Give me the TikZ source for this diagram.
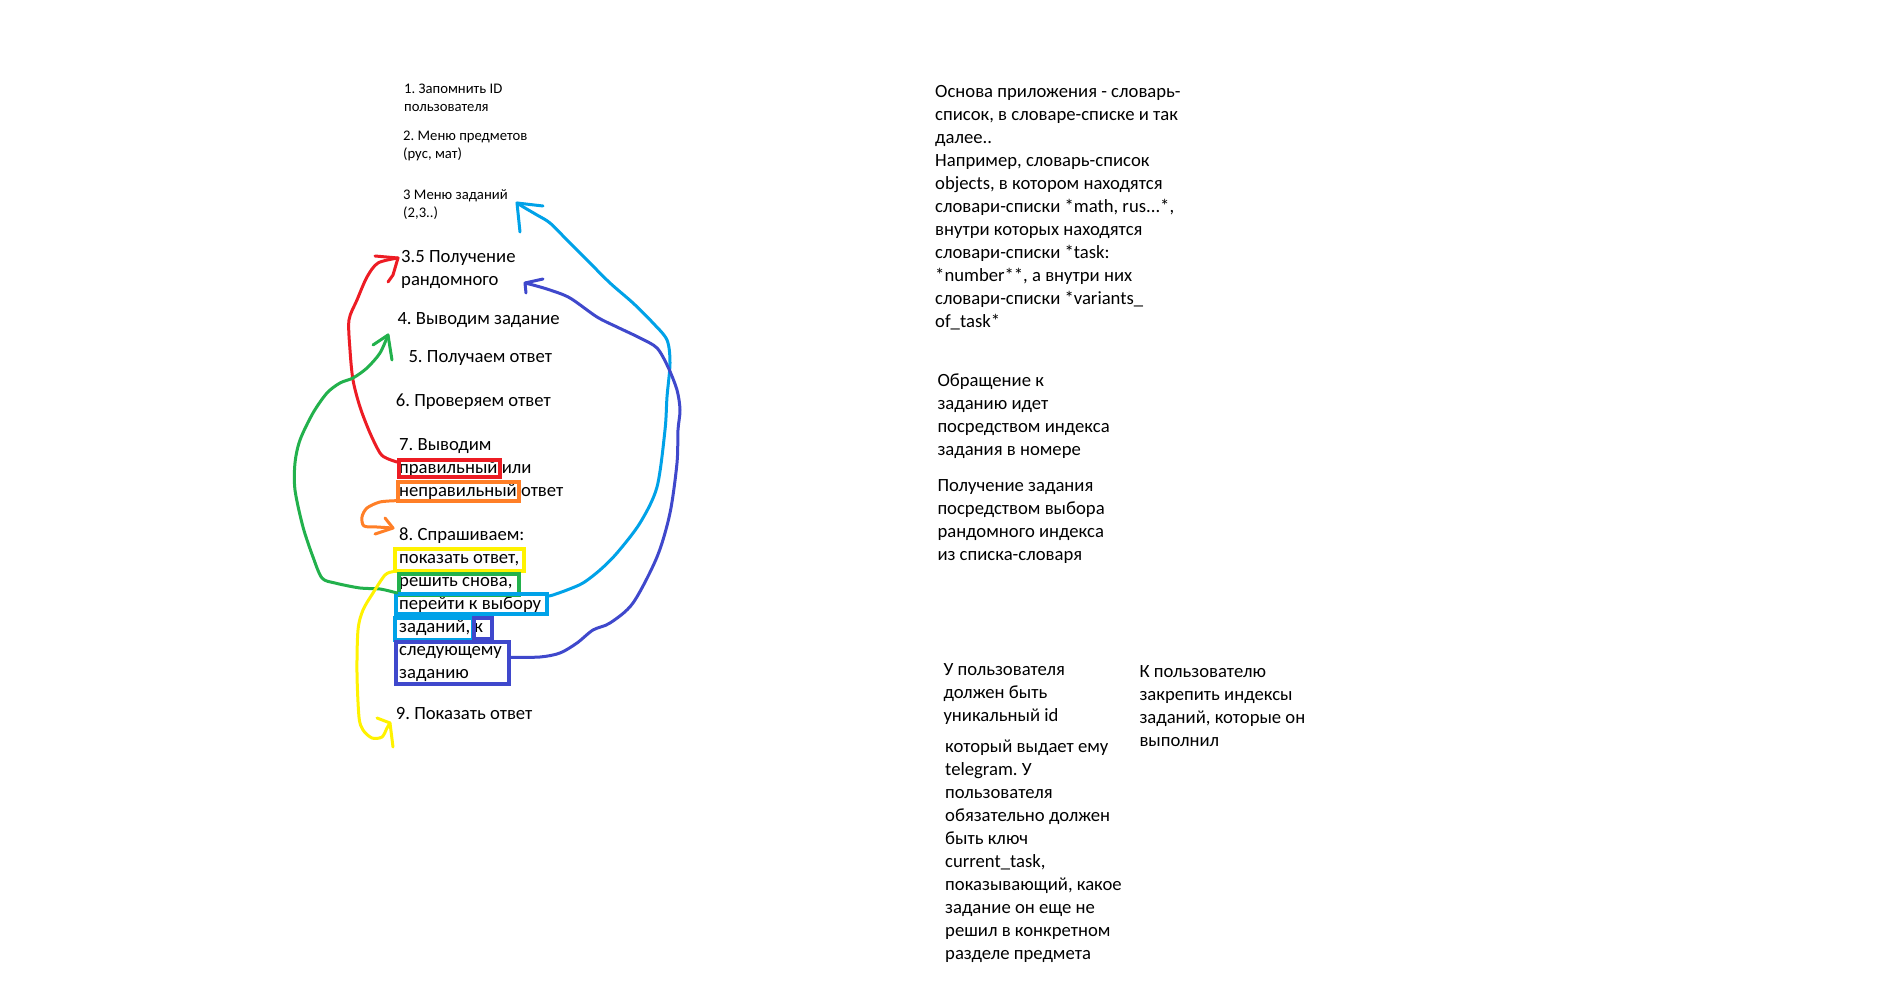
\documentclass[tikz,border=0pt]{standalone}
\usepackage{fontspec}
\setmainfont{Carlito}
\usetikzlibrary{calc}
\definecolor{pred}{HTML}{ED1C24}
\definecolor{porange}{HTML}{FF7F27}
\definecolor{pyellow}{HTML}{FFF200}
\definecolor{pgreen}{HTML}{22B14C}
\definecolor{pblue}{HTML}{00A2E8}
\definecolor{pindigo}{HTML}{3F48CC}
\newcommand{\mlines}[1]{\vtop{\let\\\cr\halign{##\hfil\cr#1\crcr}}}
\frenchspacing
\begin{document}
\begin{tikzpicture}[x=1pt,y=-1pt,
  big/.style={font=\fontsize{18.67}{23}\selectfont\frenchspacing, anchor=base west, inner sep=0pt, text=black},
  small/.style={font=\fontsize{14.67}{18}\selectfont\frenchspacing, anchor=base west, inner sep=0pt, text=black},
  hl/.style={draw=#1, line width=4pt, inner sep=0pt, anchor=north west},
  pen/.style={draw=#1, line width=3pt, line cap=round, line join=round},
]
\fill[white] (0,0) rectangle (1901,981);
\useasboundingbox (0,0) rectangle (1901,981);

% left column texts
\node[small] (t1) at (404,93.3) {\mlines{1. Запомнить ID\\пользователя}};
\node[small] (t2) at (403,141) {\mlines{2. Меню предметов\\(рус, мат)}};
\node[small] (t3) at (403,199.3) {\mlines{3 Меню заданий\\(2,3..)}};
\node[big] (t35) at (401,262.7) {\mlines{3.5 Получение\\рандомного}};
\node[big] (t4) at (397.3,324.3) {4. Выводим задание};
\node[big] (t5) at (408.3,362.3) {5. Получаем ответ};
\node[big] (t6) at (395.7,406.7) {6. Проверяем ответ};
\node[big] (t7) at (399,450) {\mlines{7. Выводим\\правильный или\\неправильный ответ}};
\node[big] (t8) at (399,540) {\mlines{8. Спрашиваем:\\показать ответ,\\решить снова,\\перейти к выбору\\заданий, к\\следующему\\заданию}};
\node[big] (t9) at (395.7,719) {9. Показать ответ};

% right column texts
\node[big] (r1) at (935,97.3) {\mlines{Основа приложения - словарь-\\список, в словаре-списке и так\\далее..\\Например, словарь-список\\objects, в котором находятся\\словари-списки *math, rus...*,\\внутри которых находятся\\словари-списки *task:\\*number**, а внутри них\\словари-списки *variants\_\\of\_task*}};
\node[big] (r2) at (937.3,386.7) {\mlines{Обращение к\\заданию идет\\посредством индекса\\задания в номере}};
\node[big] (r3) at (937.3,491.7) {\mlines{Получение задания\\посредством выбора\\рандомного индекса\\из списка-словаря}};
\node[big] (r4) at (943.3,675) {\mlines{У пользователя\\должен быть\\уникальный id}};
\node[big] (r5) at (945,752.7) {\mlines{который выдает ему\\telegram. У\\пользователя\\обязательно должен\\быть ключ\\current\_task,\\показывающий, какое\\задание он еще не\\решил в конкретном\\разделе предмета}};
\node[big] (r6) at (1139.3,677.3) {\mlines{К пользователю\\закрепить индексы\\заданий, которые он\\выполнил}};

% highlight boxes
\node[hl=pred, minimum width=101pt, minimum height=17.3pt] (rb) at (397,458) {};
\node[hl=porange, minimum width=121.3pt, minimum height=18.4pt] (ob) at (396,480.3) {};
\node[hl=pyellow, minimum width=129pt, minimum height=21.7pt] (yb) at (393,547) {};
\node[hl=pgreen, minimum width=120.3pt, minimum height=21pt] (gb) at (397,572) {};
\node[hl=pblue, minimum width=150.4pt, minimum height=20pt] (lb) at (394.3,592) {};
\node[hl=pblue, minimum width=78.3pt, minimum height=22pt] (lb2) at (393,616) {};
\node[hl=pindigo, minimum width=18.3pt, minimum height=21pt] (kb) at (472,616) {};
\node[hl=pindigo, minimum width=113pt, minimum height=41.7pt] (ib) at (394.3,640.3) {};

% arrow tips
\coordinate (rt) at (398,258);
\coordinate (gt) at (388,335);
\coordinate (ot) at (393,528);
\coordinate (yt) at (390,723);
\coordinate (bt) at (517,203);
\coordinate (it) at (525,283);

% red
\draw[pen=pred] plot[smooth] coordinates {($(rb.north west)+(0,4)$) (386.7,458.3) (380,453) (370,433) (360,407) (353,380) (350,350) (349,320) (357,300) (367,277) (378,263) (rt)};
\draw[pen=pred] ($(rt)+(-23,-2)$) -- (rt) -- ++(-5,17) -- ++(-5,7);
% green
\draw[pen=pgreen] plot[smooth] coordinates {($(gb.south west)+(0,-4)$) (380,589) (360,588) (335,583) (322,578) (313,557) (303,527) (295,490) (295,463) (300,440) (313,413) (327,393) (340,383) (353,378) (367,368) (380,353) (gt)};
\draw[pen=pgreen] ($(gt)+(-15,10)$) -- (gt) -- ++(4,25);
% orange
\draw[pen=porange] plot[smooth] coordinates {($(ob.south west)+(0,-2)$) (380,502) (367,508) (362,517) (364,526) (377,527) (ot)};
\draw[pen=porange] ($(ot)+(-8,-10)$) -- (ot) -- ++(-18,6);
% yellow
\draw[pen=pyellow] plot[smooth] coordinates {($(yb.south west)+(0,-1)$) (385,575) (373,593) (363,610) (358,630) (357,673) (359,717) (363,730) (372,738) (382,737) (387,728) (yt)};
\draw[pen=pyellow] ($(yt)+(-13,-5)$) -- (yt) -- ++(3,24);
% light blue
\draw[pen=pblue] plot[smooth] coordinates {($(lb.north east)+(0,4)$) (553,595) (567,590) (583,583) (600,570) (617,553) (640,523) (657,487) (665,430) (667,397) (670,363) (667,340) (653,323) (633,303) (610,283) (587,260) (567,240) (550,223) (537,215) (525,208) (bt)};
\draw[pen=pblue] ($(bt)+(26,3)$) -- (bt) -- ++(3,29);
% indigo
\draw[pen=pindigo] plot[smooth] coordinates {($(ib.north east)+(0,17)$) (540,657) (560,653) (577,643) (593,630) (610,623) (633,603) (657,557) (670,513) (677,463) (678,430) (680,410) (677,390) (668,367) (657,348) (640,338) (617,327) (597,317) (570,298) (550,290) (533,285) (it)};
\draw[pen=pindigo] ($(it)+(18,-4)$) -- (it) -- ++(1,10);
\end{tikzpicture}
\end{document}
